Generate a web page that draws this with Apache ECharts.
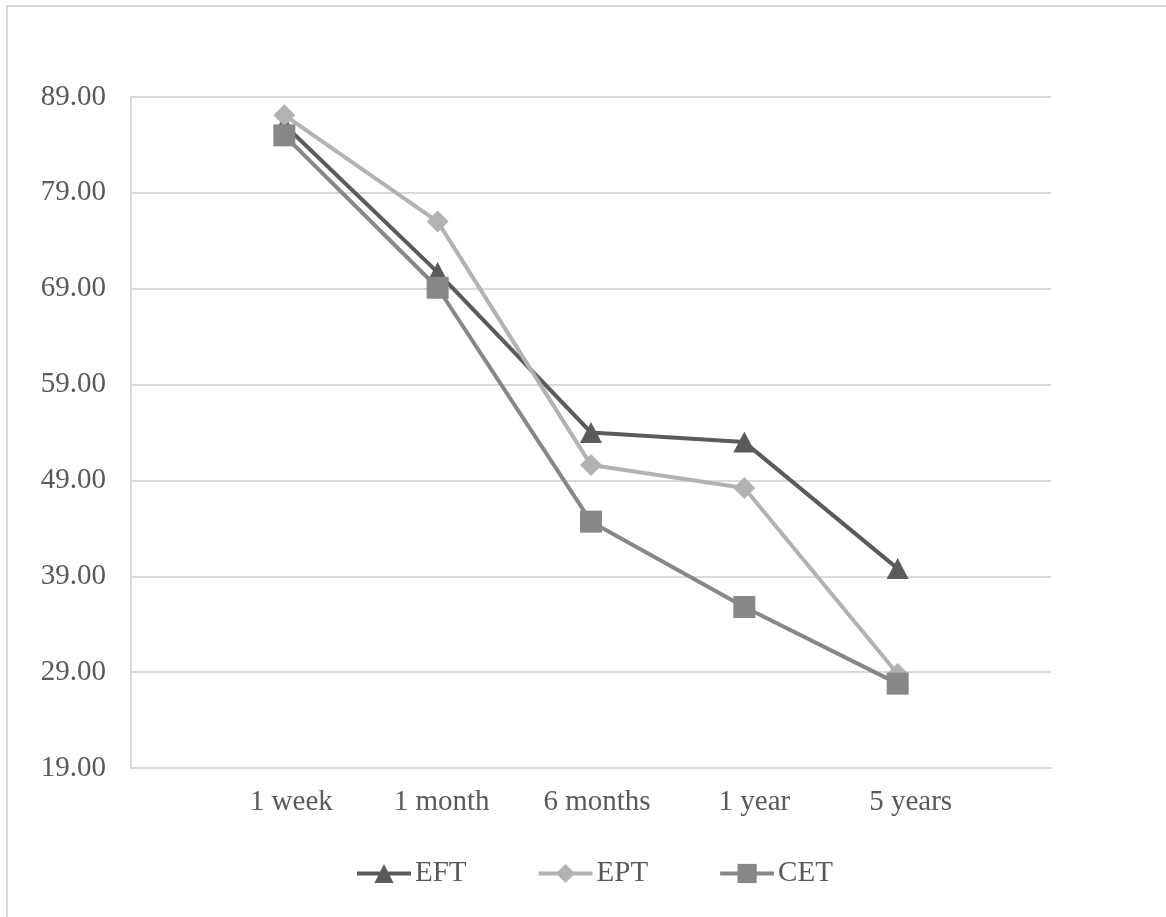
<!DOCTYPE html>
<html>
<head>
<meta charset="utf-8">
<title>EFT / EPT / CET</title>
<script src="https://cdn.jsdelivr.net/npm/echarts@6/dist/echarts.min.js"></script>
<style>
  html, body { margin: 0; padding: 0; background: #ffffff; }
  #chart { width: 1166px; height: 917px; }
</style>
</head>
<body>
<div id="chart"></div>
<script>
// Time points after treatment
const categories = ['1 week', '1 month', '6 months', '1 year', '5 years'];

// Scores per group
const eftValues = [86.1, 70.7, 54.0, 53.0, 39.8];
const eptValues = [87.1, 76.0, 50.6, 48.2, 28.8];
const cetValues = [85.0, 69.1, 44.7, 35.8, 27.8];

// Value axis ticks
const yMin = 19;
const yMax = 89;
const yStep = 10;

const textColor = '#595959';
const gridColor = '#d9d9d9';
const fontFamily = '"Liberation Serif", "Times New Roman", serif';
const fontSize = 29;

// Blank slots at both ends give the half-step padding around the first and last points
const axisCategories = [''].concat(categories, ['']);
const pad = (arr) => [null].concat(arr, [null]);

// Small rightward nudges for the category labels (px)
const labelNudge = [7, 4, 6, 10, 13];
const labelRich = {};
labelNudge.forEach((n, i) => {
  labelRich['c' + (i + 1)] = {
    fontSize: fontSize,
    fontFamily: fontFamily,
    color: textColor,
    padding: [0, 0, 0, n * 2]
  };
});

const chart = echarts.init(document.getElementById('chart'), null, { renderer: 'canvas' });

function lineSeries(name, values, color, symbol, size) {
  return {
    name: name,
    type: 'line',
    data: pad(values),
    symbol: symbol,
    symbolSize: size,
    showAllSymbol: true,
    connectNulls: false,
    lineStyle: { color: color, width: 4 },
    itemStyle: { color: color, borderWidth: 0 },
    emphasis: { disabled: true },
    animation: false
  };
}

chart.setOption({
  backgroundColor: '#ffffff',
  animation: false,
  textStyle: { fontFamily: fontFamily, color: textColor },
  graphic: [{
    type: 'rect',
    shape: { x: 7, y: 6, width: 1300, height: 1100 },
    style: { fill: 'none', stroke: gridColor, lineWidth: 2 },
    silent: true,
    z: -10
  }],
  grid: { left: 131, right: 115, top: 97, bottom: 149, containLabel: false },
  legend: {
    left: 355,
    top: 859,
    padding: 0,
    itemWidth: 54,
    itemHeight: 24,
    itemGap: 70,
    lineStyle: { width: 4 },
    textStyle: { fontFamily: fontFamily, fontSize: fontSize, color: textColor, padding: [0, 0, 0, -1] },
    data: ['EFT', 'EPT', 'CET']
  },
  xAxis: {
    type: 'category',
    data: axisCategories,
    boundaryGap: false,
    axisLine: { show: true, lineStyle: { color: gridColor, width: 2 } },
    axisTick: { show: false },
    splitLine: { show: false },
    axisLabel: {
      interval: 0,
      margin: 20,
      fontSize: fontSize,
      color: textColor,
      fontFamily: fontFamily,
      formatter: (value, idx) => (value ? '{c' + idx + '|' + value + '}' : ''),
      rich: labelRich
    }
  },
  yAxis: {
    type: 'value',
    min: yMin,
    max: yMax,
    interval: yStep,
    axisLine: { show: true, lineStyle: { color: gridColor, width: 2 } },
    axisTick: { show: false },
    splitLine: { show: true, lineStyle: { color: gridColor, width: 2 } },
    axisLabel: {
      margin: 25,
      fontSize: fontSize,
      color: textColor,
      fontFamily: fontFamily,
      formatter: (v) => v.toFixed(2)
    }
  },
  series: [
    lineSeries('EFT', eftValues, '#5b5b5b', 'triangle', [22, 21]),
    lineSeries('EPT', eptValues, '#b2b2b2', 'diamond', [22, 22]),
    lineSeries('CET', cetValues, '#878787', 'rect', [22, 22])
  ]
});
</script>
</body>
</html>
